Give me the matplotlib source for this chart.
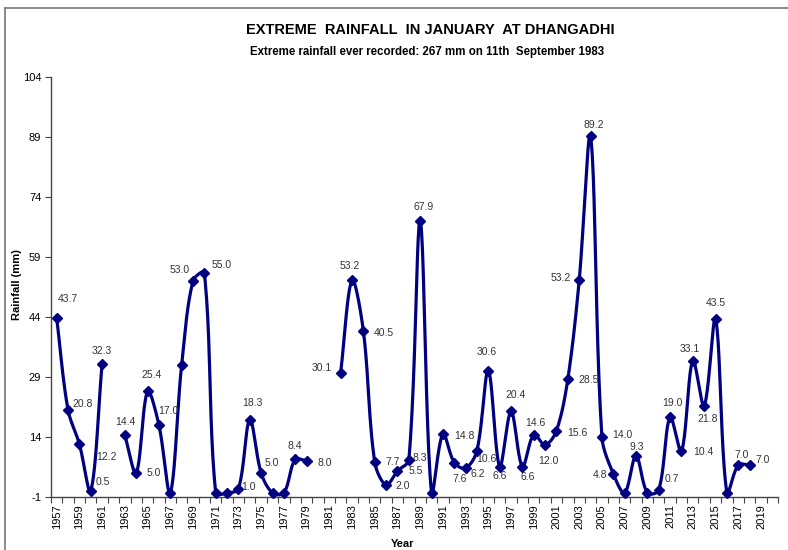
import numpy as np
import matplotlib
matplotlib.use("Agg")
import matplotlib.pyplot as plt
from matplotlib.lines import Line2D

plt.rcParams["font.family"] = ["Liberation Sans", "DejaVu Sans"]

# January extreme rainfall (mm) at Dhangadhi, None = no record
years = list(range(1957, 2021))
rain = [
    43.7, 20.8, 12.2, 0.5, 32.3, None, 14.4, 5.0, 25.4, 17.0,   # 1957-1966
    0.0, 32.0, 53.0, 55.0, 0.0, 0.0, 1.0, 18.3, 5.0, 0.0,       # 1967-1976
    0.0, 8.4, 8.0, None, None, 30.1, 53.2, 40.5, 7.7, 2.0,      # 1977-1986
    5.5, 8.3, 67.9, 0.0, 14.8, 7.6, 6.2, 10.6, 30.6, 6.6,       # 1987-1996
    20.4, 6.6, 14.6, 12.0, 15.6, 28.5, 53.2, 89.2, 14.0, 4.8,   # 1997-2006
    0.0, 9.3, 0.0, 0.7, 19.0, 10.4, 33.1, 21.8, 43.5, 0.0,      # 2007-2016
    7.0, 7.0, None, None,                                       # 2017-2020
]
label_years = list(range(1957, 2020, 2))
y_ticks = [-1, 14, 29, 44, 59, 74, 89, 104]

# where each value label sits relative to its point (pixels); missing = no label
label_offsets = {
    1957: (11, 19), 1958: (15, 6), 1959: (27, -13), 1960: (12, 9), 1961: (0, 13),
    1963: (0, 13), 1964: (18, 0), 1965: (4, 16), 1966: (9, 14),
    1969: (-13, 11), 1970: (17, 8), 1973: (10, 2), 1974: (3, 17), 1975: (11, 10),
    1978: (0, 13), 1979: (18, -2), 1982: (-19, 5), 1983: (-2, 14), 1984: (20, -2),
    1985: (18, 0), 1986: (17, -1), 1987: (18, 0), 1988: (11, 2), 1989: (3, 14),
    1991: (21, -2), 1992: (5, -16), 1993: (12, -6), 1994: (9, -8), 1995: (-2, 19),
    1996: (0, -9), 1997: (5, 16), 1998: (5, -10), 1999: (2, 12), 2000: (3, -16),
    2001: (21, -2), 2002: (21, -1), 2003: (-19, 2), 2004: (3, 11), 2005: (20, 2),
    2006: (-13, -1), 2008: (1, 9), 2010: (13, 11), 2011: (2, 14), 2012: (22, -1),
    2013: (-3, 12), 2014: (4, -13), 2015: (0, 16), 2017: (3, 10), 2018: (13, 5),
}

LINE = "#000080"


def smooth_segment(pts, steps=24):
    """Bezier through display-space points, tangents scaled by segment
    lengths (close to Excel's smoothed line)."""
    pts = np.asarray(pts, float)
    if len(pts) < 2:
        return pts
    p = np.vstack([pts[:1], pts, pts[-1:]])
    t = np.linspace(0, 1, steps)[:, None]
    out = []
    for i in range(1, len(p) - 2):
        p0, p1, p2, p3 = p[i - 1], p[i], p[i + 1], p[i + 2]
        d01 = np.hypot(*(p1 - p0))
        d12 = np.hypot(*(p2 - p1))
        d23 = np.hypot(*(p3 - p2))
        f1 = d12 / (d01 + d12) / 3 if d01 + d12 > 0 else 0
        f2 = d12 / (d12 + d23) / 3 if d12 + d23 > 0 else 0
        c1 = p1 + (p2 - p0) * f1
        c2 = p2 - (p3 - p1) * f2
        b = (1 - t) ** 3 * p1 + 3 * (1 - t) ** 2 * t * c1 \
            + 3 * (1 - t) * t ** 2 * c2 + t ** 3 * p2
        out.append(b)
    return np.vstack(out)


fig = plt.figure(figsize=(7.88, 5.5), dpi=100)
ax = fig.add_axes([51 / 788, 1 - 497 / 550, 727 / 788, 420 / 550])
ax.set_xlim(1956.5, 2020.5)
ax.set_ylim(-1, 104)

# split into runs of recorded years, smooth each run in pixel space
to_px = ax.transData
runs, cur = [], []
for yr, v in zip(years + [None], rain + [None]):
    if v is None:
        if cur:
            runs.append(cur)
        cur = []
    else:
        cur.append((yr, v))
for run in runs:
    curve = smooth_segment(to_px.transform(run))
    ax.plot(curve[:, 0], curve[:, 1], transform=None, color=LINE, linewidth=2.3,
            solid_capstyle="round", zorder=2, clip_on=True, clip_box=ax.bbox)

pts_x = [yr for yr, v in zip(years, rain) if v is not None]
pts_y = [v for v in rain if v is not None]
ax.plot(pts_x, pts_y, linestyle="none", marker="D", markersize=5.5,
        color=LINE, zorder=3, clip_on=False)

for yr, v in zip(years, rain):
    if v is None or yr not in label_offsets:
        continue
    dx, dy = label_offsets[yr]
    ax.annotate(f"{v:.1f}", xy=(yr, v), xytext=(dx, dy), textcoords="offset pixels",
                ha="center", va="center", fontsize=7.5, color="#333333")

ax.set_yticks(y_ticks)
ax.set_yticklabels([str(t) for t in y_ticks], fontsize=8)
ax.set_xticks(np.arange(1956.5, 2021, 1.0))
ax.set_xticklabels([])
ax.set_xticks(label_years, minor=True)
ax.set_xticklabels([str(y) for y in label_years], minor=True, rotation=90, fontsize=8)
ax.tick_params(axis="x", which="major", length=4, direction="out", color="#444444")
ax.tick_params(axis="x", which="minor", length=0, pad=5)
ax.tick_params(axis="y", length=4, direction="out", color="#444444", pad=3)

for side in ("top", "right"):
    ax.spines[side].set_visible(False)
for side in ("left", "bottom"):
    ax.spines[side].set_color("#444444")
    ax.spines[side].set_linewidth(1.0)

fig.text(17 / 788, 1 - 285 / 550, "Rainfall (mm)", rotation=90, ha="center",
         va="center", fontsize=8, fontweight="bold")
fig.text(403 / 788, 1 - 544 / 550, "Year", ha="center", va="center",
         fontsize=8, fontweight="bold")

fig.text(430 / 788, 1 - 30 / 550, "EXTREME  RAINFALL  IN JANUARY  AT DHANGADHI",
         ha="center", va="center", fontsize=10.5, fontweight="bold")
fig.text(427 / 788, 1 - 52 / 550,
         "Extreme rainfall ever recorded: 267 mm on 11th  September 1983",
         ha="center", va="center", fontsize=8.3, fontweight="bold")

# chart area border (top and left edges visible)
fig.add_artist(Line2D([5 / 788, 1], [1 - 8 / 550, 1 - 8 / 550],
                      transform=fig.transFigure, color="#777777", linewidth=1.2))
fig.add_artist(Line2D([5 / 788, 5 / 788], [0, 1 - 8 / 550],
                      transform=fig.transFigure, color="#777777", linewidth=1.2))

plt.savefig("out.png", dpi=100)
